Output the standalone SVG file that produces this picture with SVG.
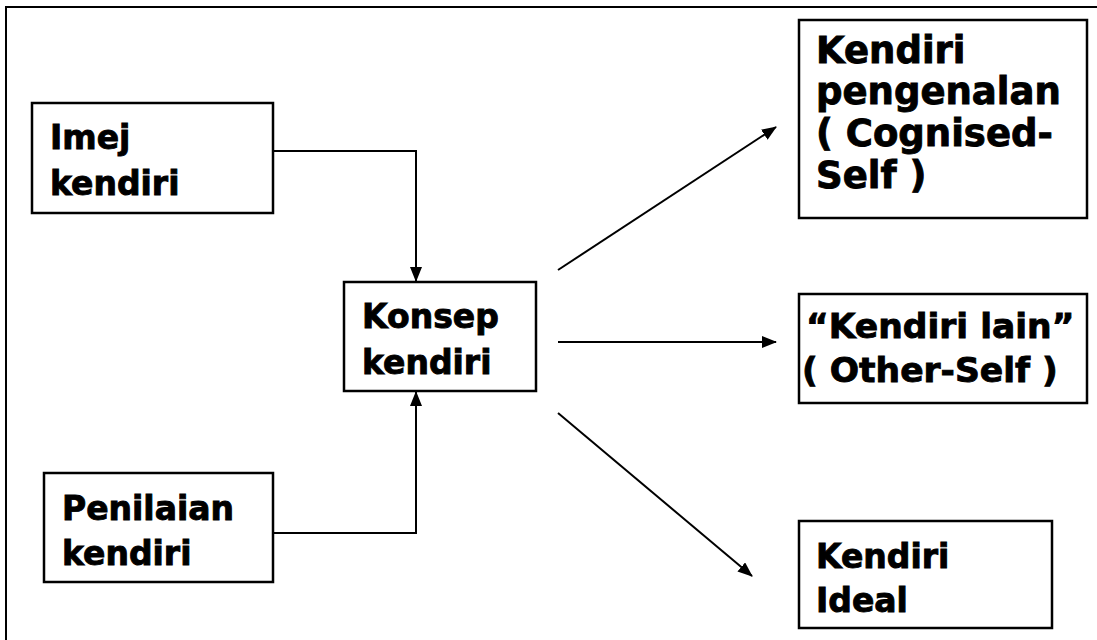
<svg xmlns="http://www.w3.org/2000/svg" width="1097" height="640" viewBox="0 0 1097 640">
<style>
.box{fill:#fff;stroke:#000;stroke-width:2.5}
.t{font-family:"DejaVu Sans",Verdana,sans-serif;font-weight:bold;fill:#000;stroke:#000;stroke-width:0.9}
.c{fill:none;stroke:#000;stroke-width:2}
</style>
<defs>
<marker id="ah" markerWidth="15" markerHeight="12" refX="14" refY="6" orient="auto" markerUnits="userSpaceOnUse">
<path d="M0,0 L15,6 L0,12 Z" fill="#000"/>
</marker>
</defs>
<rect width="1097" height="640" fill="#fff"/>
<rect x="6" y="7" width="1200" height="700" fill="none" stroke="#000" stroke-width="2"/>
<g id="connectors">
<path class="c" d="M273,151 H416 V281" marker-end="url(#ah)"/>
<path class="c" d="M273,533 H416 V392" marker-end="url(#ah)"/>
<path class="c" d="M558,270 L776,127" marker-end="url(#ah)"/>
<path class="c" d="M558,342 L776,342" marker-end="url(#ah)"/>
<path class="c" d="M558,413 L752,576" marker-end="url(#ah)"/>
</g>
<g id="imej">
<rect class="box" x="32" y="103" width="241" height="110"/>
<text class="t" font-size="33" x="50" y="149">Imej</text>
<text class="t" font-size="33" x="50" y="195">kendiri</text>
</g>
<g id="penilaian">
<rect class="box" x="44" y="473" width="229" height="109"/>
<text class="t" font-size="33" x="62" y="520">Penilaian</text>
<text class="t" font-size="33" x="62" y="565">kendiri</text>
</g>
<g id="konsep">
<rect class="box" x="344" y="282" width="192" height="109"/>
<text class="t" font-size="33" x="362" y="328">Konsep</text>
<text class="t" font-size="33" x="362" y="374">kendiri</text>
</g>
<g id="pengenalan">
<rect class="box" x="799" y="20" width="288" height="198"/>
<text class="t" font-size="37" x="816" y="63">Kendiri</text>
<text class="t" font-size="37" x="816" y="104">pengenalan</text>
<text class="t" font-size="37" x="816" y="146">( Cognised-</text>
<text class="t" font-size="37" x="816" y="188">Self )</text>
</g>
<g id="lain">
<rect class="box" x="799" y="294" width="288" height="109"/>
<text class="t" font-size="34.5" x="806" y="338">“Kendiri lain”</text>
<text class="t" font-size="34.5" x="802" y="382">( Other-Self )</text>
</g>
<g id="ideal">
<rect class="box" x="799" y="521" width="253" height="107"/>
<text class="t" font-size="33" x="816" y="568">Kendiri</text>
<text class="t" font-size="33" x="816" y="612">Ideal</text>
</g>
</svg>
